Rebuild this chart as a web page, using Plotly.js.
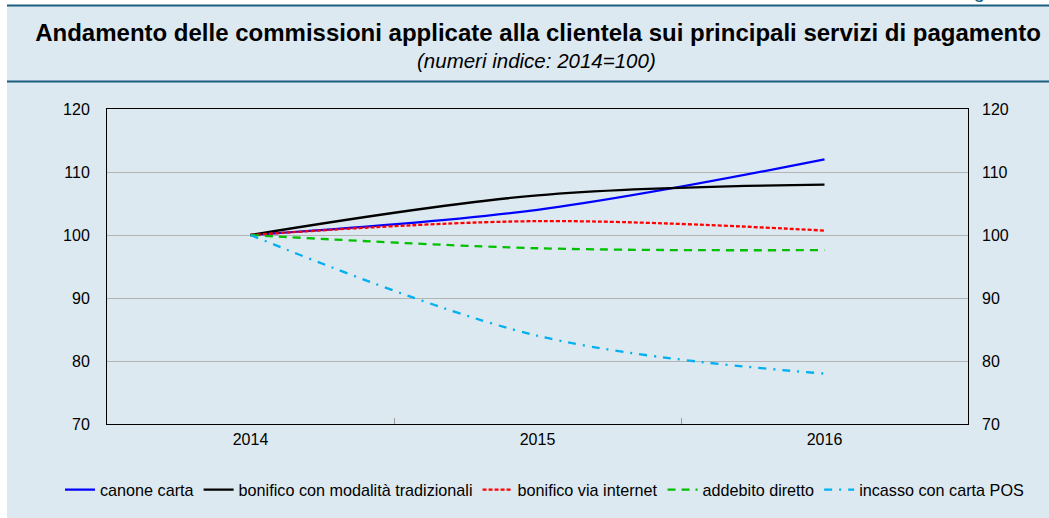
<!DOCTYPE html>
<html>
<head>
<meta charset="utf-8">
<script src="https://cdn.plot.ly/plotly-3.0.1.min.js"></script>
<style>
html,body{margin:0;padding:0;background:#fff;}
#grafico{width:1049px;height:518px;}
</style>
</head>
<body>
<div id="grafico"></div>
<script>
// anni e serie (numeri indice 2014=100)
let anni=["2014","2015","2016"];
let canoneCarta=[100,104.0,112.0];
let bonificoTradizionale=[100,106.3,108.0];
let bonificoInternet=[100,102.2,100.7];
let addebitoDiretto=[100,97.9,97.6];
let incassoPos=[100,84.0,78.0];
let tickY=[70,80,90,100,110,120];

// margini area grafico (pixel)
let L=107,R=81,T=109,B=94;
let W=1049,H=518;
let pw=W-L-R,ph=H-T-B;

function px(x){return (x-L)/pw;}
function py(y){return (H-B-y)/ph;}

let font="Liberation Sans, Arial, sans-serif";
let scuro="#1b5e80";
let azzurro="#dde9f1";

function serie(nome,valori,colore,dash){
return {
x:anni,
y:valori,
name:nome,
type:"scatter",
mode:"lines",
line:{color:colore,width:2.3,dash:dash,shape:"spline",smoothing:1}
};
}

let dati=[
serie("canone carta",canoneCarta,"#0000ff","solid"),
serie("bonifico con modalità tradizionali",bonificoTradizionale,"#000000","solid"),
serie("bonifico via internet",bonificoInternet,"#ff0000","4px,2px"),
serie("addebito diretto",addebitoDiretto,"#00c000","8px,6px"),
serie("incasso con carta POS",incassoPos,"#00b0f0","8px,7px,2px,7px")
];

// traccia invisibile per l'asse destro
dati.push({
x:anni,y:canoneCarta,yaxis:"y2",type:"scatter",mode:"lines",
line:{width:0},opacity:0,showlegend:false,hoverinfo:"skip"
});

let layout={
width:W,
height:H,
margin:{l:L,r:R,t:T,b:B,pad:0,autoexpand:false},
paper_bgcolor:"#ffffff",
plot_bgcolor:"#ffffff",
font:{family:font,size:16,color:"#000"},
title:{
text:"<b>Andamento delle commissioni applicate alla clientela sui principali servizi di pagamento</b>",
font:{family:font,size:24,color:"#000"},
xref:"paper",x:px(538),xanchor:"center",
yref:"container",y:1-33/H,yanchor:"middle"
},
xaxis:{
type:"category",
range:[-0.5,2.5],
showgrid:false,
showline:true,linecolor:"#000",linewidth:1,mirror:true,
ticks:"inside",tickson:"boundaries",ticklen:6,tickcolor:"#999",
ticklabelstandoff:1,
tickfont:{family:font,size:16,color:"#000"},
zeroline:false,fixedrange:true
},
yaxis:{
range:[70,120],
tickvals:tickY,
showgrid:true,gridcolor:"#b4b4b4",gridwidth:1,
showline:true,linecolor:"#000",linewidth:1,mirror:true,
ticks:"",ticklabelstandoff:13,
tickfont:{family:font,size:16,color:"#000"},
zeroline:false,fixedrange:true
},
yaxis2:{
range:[70,120],
tickvals:tickY,
overlaying:"y",side:"right",
showgrid:false,showline:false,
ticks:"",ticklabelstandoff:13,
tickfont:{family:font,size:16,color:"#000"},
zeroline:false,fixedrange:true
},
legend:{
orientation:"h",
x:px(60),xanchor:"left",
y:py(490),yanchor:"middle",
font:{family:font,size:16.2,color:"#000"},
bgcolor:"rgba(0,0,0,0)",
itemwidth:30
},
annotations:[
{
text:"<i>(numeri indice: 2014=100)</i>",
xref:"paper",yref:"paper",
x:px(536),y:py(60),xanchor:"center",yanchor:"middle",
showarrow:false,
font:{family:font,size:20.5,color:"#000"}
},
{
text:"Figura 1.1",
xref:"paper",yref:"paper",
x:px(1049),y:py(-9),xanchor:"right",yanchor:"middle",
showarrow:false,
font:{family:font,size:20,color:scuro}
}
],
shapes:[
{type:"rect",xref:"paper",yref:"paper",layer:"below",
x0:px(7),x1:px(1049),y0:py(518),y1:py(5),
fillcolor:azzurro,line:{width:0}},
{type:"line",xref:"paper",yref:"paper",layer:"below",
x0:px(7),x1:px(1049),y0:py(5.5),y1:py(5.5),
line:{color:scuro,width:2}},
{type:"line",xref:"paper",yref:"paper",layer:"below",
x0:px(7),x1:px(1049),y0:py(81.5),y1:py(81.5),
line:{color:scuro,width:2}}
]
};

Plotly.newPlot("grafico",dati,layout,{displayModeBar:false,staticPlot:true});
</script>
</body>
</html>
